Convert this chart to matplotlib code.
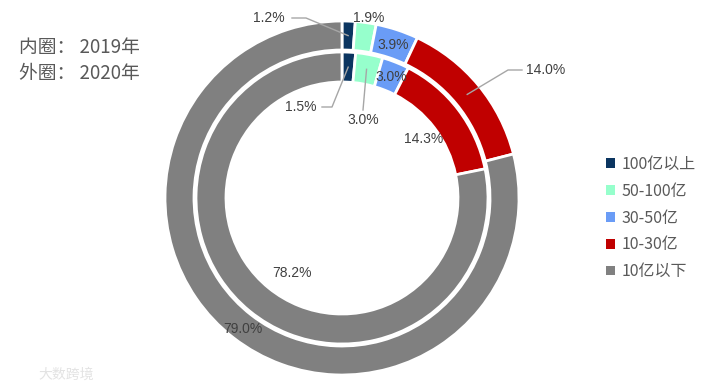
import numpy as np
import matplotlib
matplotlib.use('Agg')
import matplotlib.pyplot as plt
from matplotlib.patches import Patch

plt.rcParams['font.family'] = ['Noto Sans CJK SC', 'DejaVu Sans']

categories = ['100亿以上', '50-100亿', '30-50亿', '10-30亿', '10亿以下']
colors = ['#0b3560', '#96ffcc', '#6a9cf6', '#c00000', '#808080']
inner_2019 = [1.5, 3.0, 3.0, 14.3, 78.2]
outer_2020 = [1.2, 1.9, 3.9, 14.0, 79.0]

W, H = 707, 387
cx, cy = 342, H - 198
r_out, w_out = 177, 29
r_in, w_in = 146, 30
txt = '#404040'

fig = plt.figure(figsize=(W / 100, H / 100), dpi=100)
ax = fig.add_axes([0, 0, 1, 1])

wp = dict(edgecolor='white', linewidth=2)
ax.pie(outer_2020, colors=colors, radius=r_out, center=(cx, cy), startangle=90,
       counterclock=False, wedgeprops=dict(width=w_out, **wp), frame=True)
ax.pie(inner_2019, colors=colors, radius=r_in, center=(cx, cy), startangle=90,
       counterclock=False, wedgeprops=dict(width=w_in, **wp), frame=True)
ax.set_xlim(0, W)
ax.set_ylim(0, H)
ax.axis('off')


def mid_point(vals, i, r):
    cum = sum(vals[:i]) + vals[i] / 2
    a = np.deg2rad(90 - 360 * cum / 100)
    return cx + r * np.cos(a), cy + r * np.sin(a)


# label positions (pixel, top-down) and whether a leader line is drawn
outer_pos = [(269, 18, True), (369, 18, False), (393, 45, False), (546, 70, True), (243, 329, False)]
inner_pos = [(301, 107, True), (363, 120, True), (391, 77, False), (424, 139, False), (292, 273, False)]

for vals, pos, r, w in [(outer_2020, outer_pos, r_out, w_out), (inner_2019, inner_pos, r_in, w_in)]:
    for i, (x, y, lead) in enumerate(pos):
        y = H - y
        ax.text(x, y, f'{vals[i]:.1f}%', ha='center', va='center', fontsize=10,
                color=txt, family=['Liberation Sans', 'DejaVu Sans'])
        if lead:
            mx, my = mid_point(vals, i, r - w / 2)
            if vals is outer_2020 and i == 3:
                pts = [(x - 24, y), (x - 38, y), (mx, my)]
            elif vals is outer_2020 and i == 0:
                pts = [(x + 23, y), (x + 37, y), (mx, my)]
            elif vals is inner_2019 and i == 0:
                pts = [(x + 21, y), (x + 31, y), (mx, my)]
            else:
                pts = [(x, y + 10), (mx, my)]
            xs, ys = zip(*pts)
            ax.plot(xs, ys, color='#a6a6a6', linewidth=1)

ax.text(19, H - 48, '内圈： 2019年', fontsize=13.5, color='#595959', va='center')
ax.text(19, H - 73, '外圈： 2020年', fontsize=13.5, color='#595959', va='center')
ax.text(38, H - 375, '大数跨境', fontsize=10, color='#e3e3e3', va='center')

handles = [Patch(facecolor=c, edgecolor='none') for c in colors]
ax.legend(handles, categories, loc='center left', bbox_to_anchor=(598 / W, 1 - 218 / H),
          frameon=False, fontsize=11.5, labelcolor='#595959', handlelength=0.55,
          handleheight=0.55, handletextpad=0.45, labelspacing=0.62, borderpad=0)

fig.savefig('out.png', dpi=100)
